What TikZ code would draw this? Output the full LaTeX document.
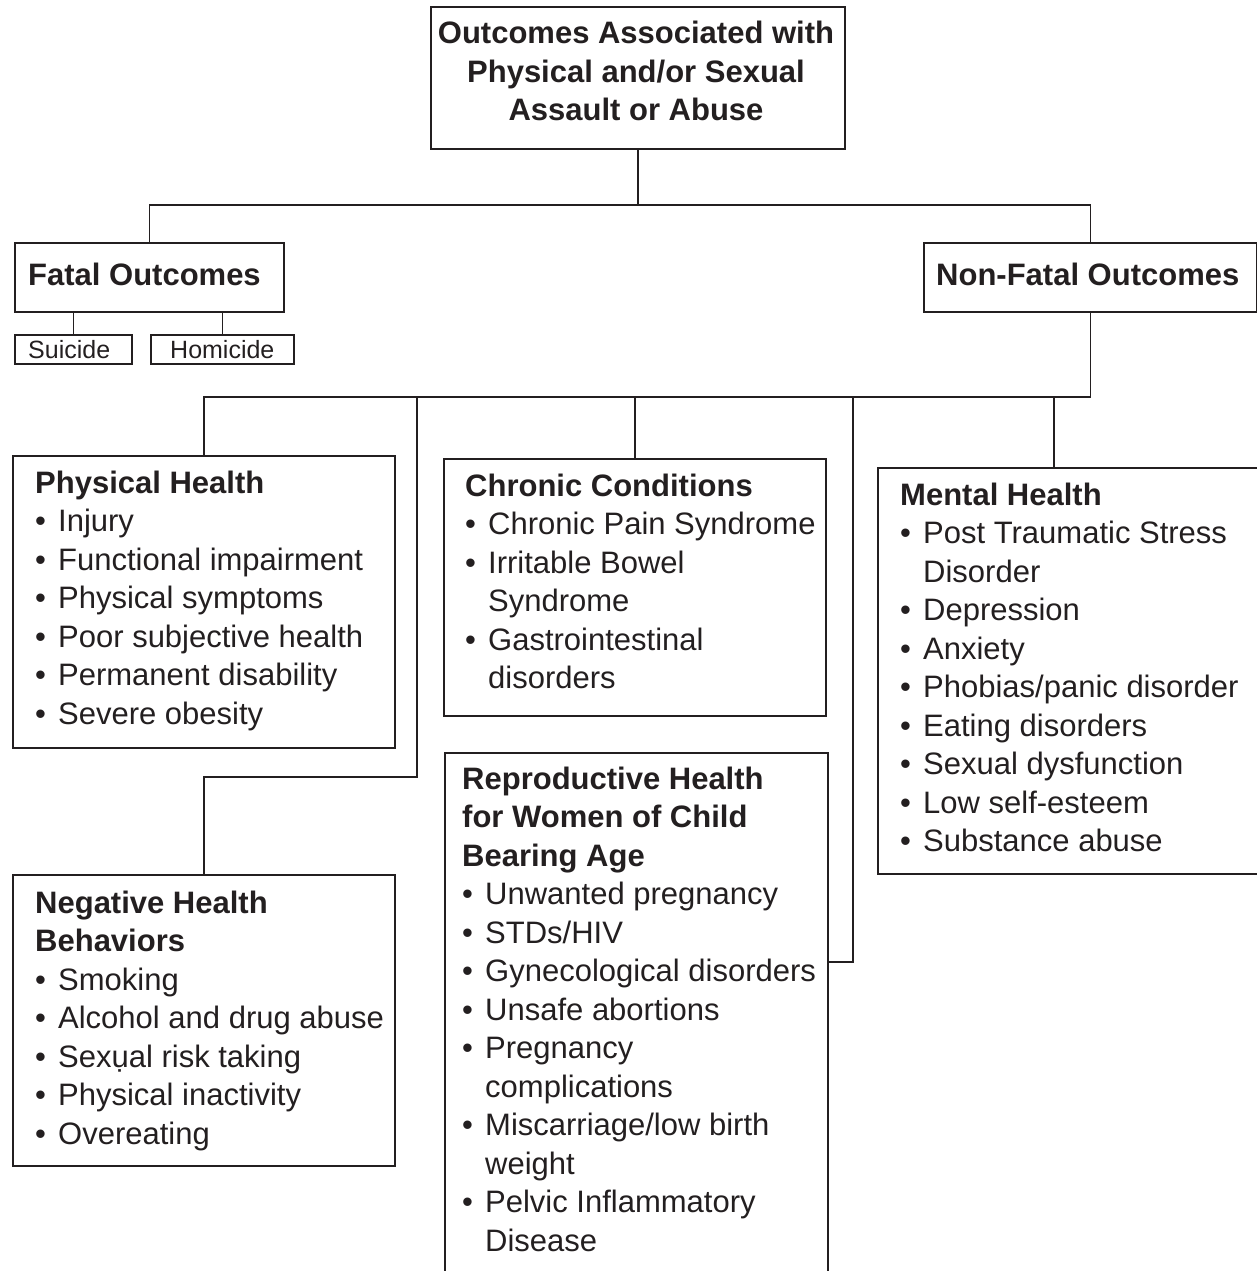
\documentclass[tikz,border=0pt]{standalone}
\usepackage{fontspec}
\setmainfont{Liberation Sans}
\definecolor{ink}{HTML}{231F20}
\newcommand\bul[1]{\makebox[23pt][l]{•}#1}
\newcommand\cnt[1]{\hspace*{23pt}#1}
\begin{document}
\begin{tikzpicture}[x=1pt,y=-1pt,
  box/.style={draw=ink, line width=1.8pt, inner sep=0pt, anchor=north west},
  conn/.style={draw=ink, line width=1.6pt},
  txt/.style={inner sep=0pt, anchor=base west, text=ink, font=\fontsize{31}{38.5}\selectfont},
  small/.style={inner sep=0pt, anchor=base west, text=ink, font=\fontsize{25}{28}\selectfont}]
\useasboundingbox (0,0) rectangle (1257,1271);
% boxes
\node[box, minimum width=414pt, minimum height=142pt] (top) at (430,6) {};
\node[box, minimum width=269pt, minimum height=69pt] (fatal) at (14,242) {};
\node[box, minimum width=333pt, minimum height=69pt] (nf) at (923,242) {};
\node[box, minimum width=117pt, minimum height=29pt] (suic) at (14,334) {};
\node[box, minimum width=143pt, minimum height=29pt] (homi) at (150,334) {};
\node[box, minimum width=382pt, minimum height=292pt] (phys) at (12,455) {};
\node[box, minimum width=382pt, minimum height=257pt] (chron) at (443,458) {};
\node[box, minimum width=400pt, minimum height=406pt] (mental) at (877,467) {};
\node[box, minimum width=382pt, minimum height=291pt] (neg) at (12,874) {};
\node[box, minimum width=383pt, minimum height=540pt] (repro) at (444,752) {};
% texts
\node[txt, anchor=base] (topt) at (636,44) {\parbox[t]{420pt}{\centering\bfseries Outcomes Associated with\\ Physical and/or Sexual\\ Assault or Abuse}};
\node[txt] (fatalt) at (28,285) {\textbf{Fatal Outcomes}};
\node[txt] (nft) at (936,285) {\textbf{Non-Fatal Outcomes}};
\node[small] (suict) at (28,358) {Suicide};
\node[small] (homit) at (170,358) {Homicide};
\node[txt] (physt) at (35,493) {\parbox[t]{370pt}{\textbf{Physical Health}\\
  \bul{Injury}\\ \bul{Functional impairment}\\ \bul{Physical symptoms}\\
  \bul{Poor subjective health}\\ \bul{Permanent disability}\\ \bul{Severe obesity}}};
\node[txt] (chront) at (465,496) {\parbox[t]{370pt}{\textbf{Chronic Conditions}\\
  \bul{Chronic Pain Syndrome}\\ \bul{Irritable Bowel}\\ \cnt{Syndrome}\\
  \bul{Gastrointestinal}\\ \cnt{disorders}}};
\node[txt] (mentalt) at (900,505) {\parbox[t]{370pt}{\textbf{Mental Health}\\
  \bul{Post Traumatic Stress}\\ \cnt{Disorder}\\ \bul{Depression}\\ \bul{Anxiety}\\
  \bul{Phobias/panic disorder}\\ \bul{Eating disorders}\\ \bul{Sexual dysfunction}\\
  \bul{Low self-esteem}\\ \bul{Substance abuse}}};
\node[txt] (negt) at (35,913) {\parbox[t]{370pt}{\textbf{Negative Health}\\ \textbf{Behaviors}\\
  \bul{Smoking}\\ \bul{Alcohol and drug abuse}\\ \bul{Sexụal risk taking}\\
  \bul{Physical inactivity}\\ \bul{Overeating}}};
\node[txt] (reprot) at (462,789) {\parbox[t]{370pt}{\textbf{Reproductive Health}\\
  \textbf{for Women of Child}\\ \textbf{Bearing Age}\\
  \bul{Unwanted pregnancy}\\ \bul{STDs/HIV}\\ \bul{Gynecological disorders}\\
  \bul{Unsafe abortions}\\ \bul{Pregnancy}\\ \cnt{complications}\\
  \bul{Miscarriage/low birth}\\ \cnt{weight}\\ \bul{Pelvic Inflammatory}\\ \cnt{Disease}}};
% helper coordinates
\coordinate (yb1) at (0,205);
\coordinate (yb2) at (0,397);
\coordinate (yn) at (0,777);
\coordinate (yr) at (0,962);
\coordinate (nx) at (417,0);
\coordinate (rx) at (853,0);
\coordinate (mx) at (1054,0);
% connectors
\draw[conn] (top.south) -- (top.south |- yb1);
\draw[conn] (fatal.north) |- (yb1 -| top.south) -| (nf.north);
\draw[conn] (suic.north) -- (suic.north |- fatal.south);
\draw[conn] (homi.north) -- (homi.north |- fatal.south);
\draw[conn] (nf.south) |- (yb2 -| phys.north) -- (phys.north);
\draw[conn] (chron.north) -- (chron.north |- yb2);
\draw[conn] (mental.north -| mx) -- (yb2 -| mx);
\draw[conn] (yb2 -| nx) |- (yn -| neg.north) -- (neg.north);
\draw[conn] (yb2 -| rx) |- (yr -| repro.east);
\end{tikzpicture}
\end{document}
